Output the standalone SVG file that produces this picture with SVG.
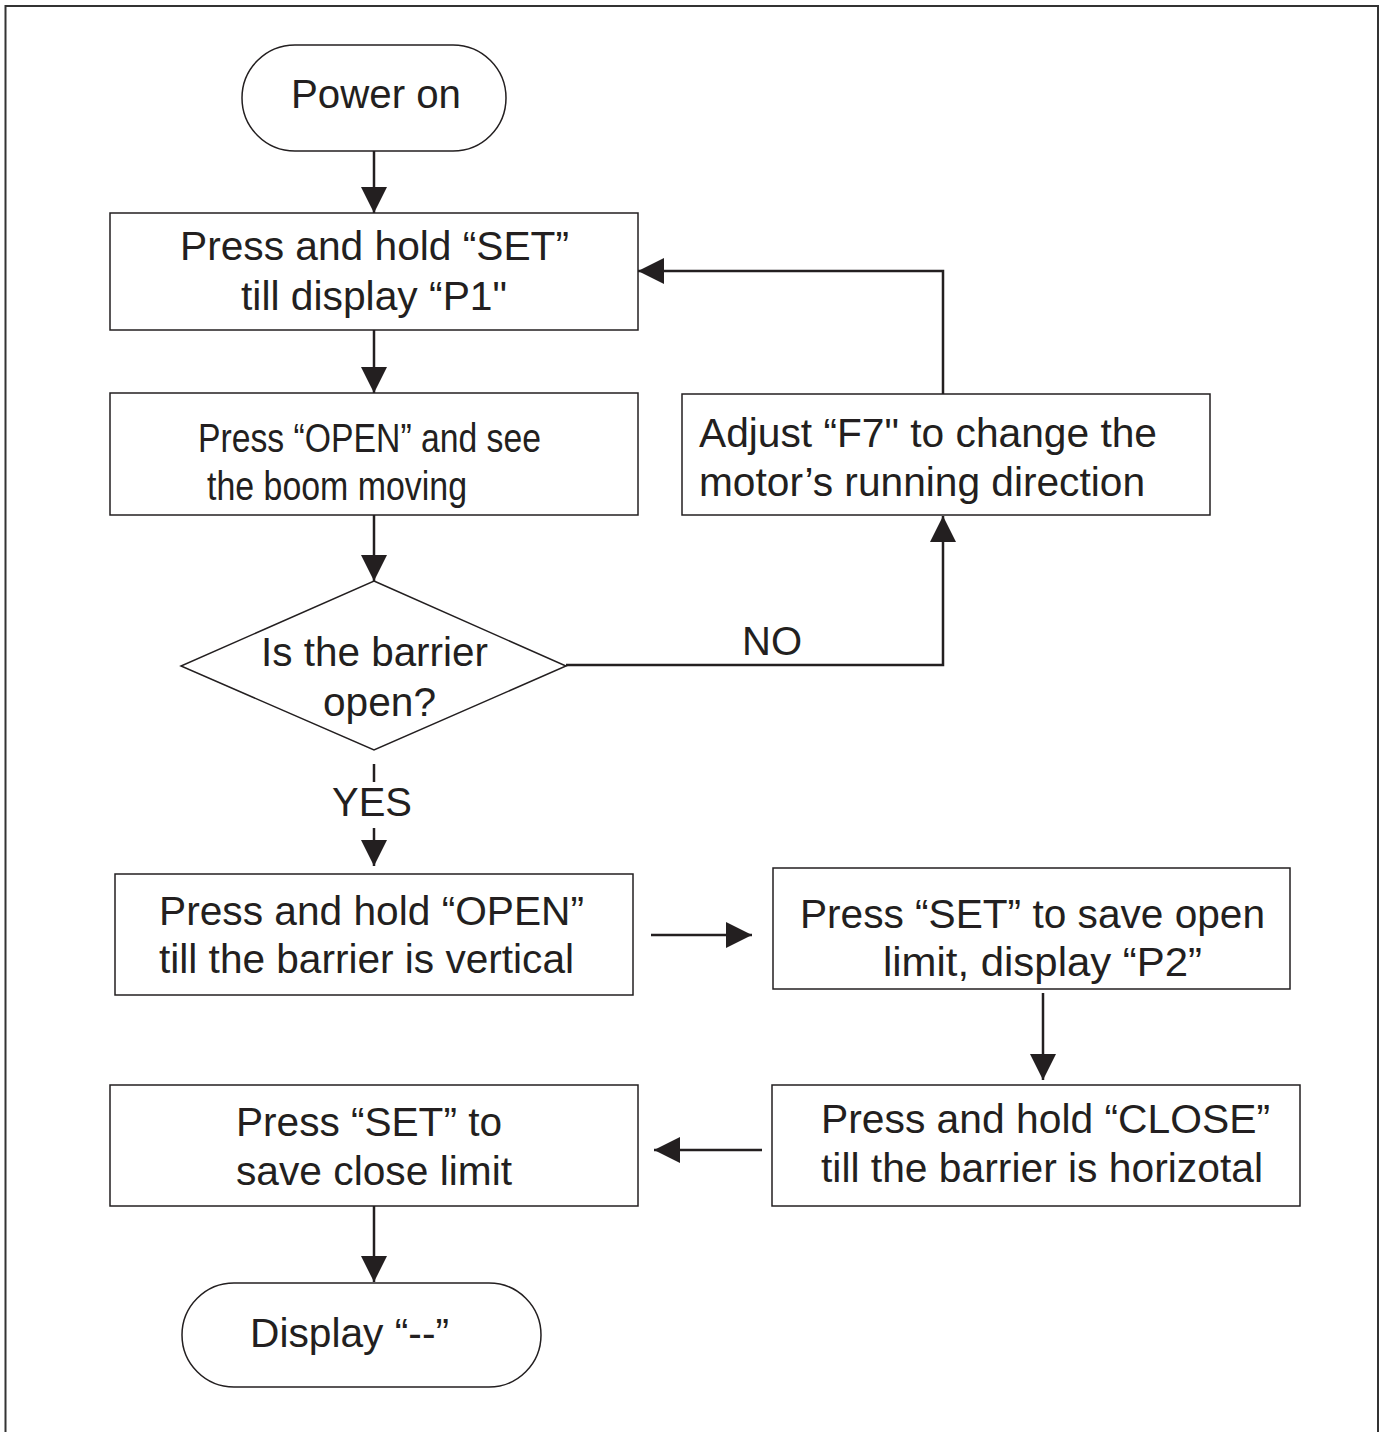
<svg xmlns="http://www.w3.org/2000/svg" width="1382" height="1432" viewBox="0 0 1382 1432">
<style>
.shape{fill:#fff;stroke:#231f20;stroke-width:1.5}
.t{font-family:"Liberation Sans",Arial,sans-serif;font-size:40px;fill:#231f20}
.c{fill:none;stroke:#231f20;stroke-width:2.5}
</style>
<defs>
<marker id="ah" markerUnits="userSpaceOnUse" markerWidth="26" markerHeight="26" refX="26" refY="13" orient="auto">
<path d="M0,0 L26,13 L0,26 Z" fill="#231f20"/>
</marker>
</defs>
<rect x="0" y="0" width="1382" height="1432" fill="#fff"/>
<rect x="5.5" y="6" width="1372.5" height="1440" fill="none" stroke="#333" stroke-width="2"/>
<g id="connectors">
<path class="c" d="M374,151 V213" marker-end="url(#ah)"/>
<path class="c" d="M374,330 V393" marker-end="url(#ah)"/>
<path class="c" d="M374,515 V581" marker-end="url(#ah)"/>
<path class="c" d="M566,665 H943 V516" marker-end="url(#ah)"/>
<path class="c" d="M943,394 V271 H638" marker-end="url(#ah)"/>
<path class="c" d="M374,764 V782"/>
<path class="c" d="M374,828 V866" marker-end="url(#ah)"/>
<path class="c" d="M651,935 H752" marker-end="url(#ah)"/>
<path class="c" d="M1043,993 V1080" marker-end="url(#ah)"/>
<path class="c" d="M762,1150 H654" marker-end="url(#ah)"/>
<path class="c" d="M374,1206 V1282" marker-end="url(#ah)"/>
<text class="t" x="742" y="655" textLength="60" lengthAdjust="spacingAndGlyphs">NO</text>
<text class="t" x="332" y="816" textLength="80" lengthAdjust="spacingAndGlyphs">YES</text>
</g>
<g id="power-on">
<rect class="shape" x="242" y="45" width="264" height="106" rx="53" ry="53"/>
<text class="t" x="291" y="108" textLength="170" lengthAdjust="spacingAndGlyphs">Power on</text>
</g>
<g id="hold-set">
<rect class="shape" x="110" y="213" width="528" height="117"/>
<text class="t" x="180" y="260" textLength="389" lengthAdjust="spacingAndGlyphs">Press and hold “SET”</text>
<text class="t" x="241" y="310" textLength="266" lengthAdjust="spacingAndGlyphs">till display “P1"</text>
</g>
<g id="press-open">
<rect class="shape" x="110" y="393" width="528" height="122"/>
<text class="t" x="198" y="452" textLength="343" lengthAdjust="spacingAndGlyphs">Press “OPEN” and see</text>
<text class="t" x="207" y="500" textLength="260" lengthAdjust="spacingAndGlyphs">the boom moving</text>
</g>
<g id="decision">
<polygon class="shape" points="374,581 566,666 374,750 181,666"/>
<text class="t" x="261" y="666" textLength="227" lengthAdjust="spacingAndGlyphs">Is the barrier</text>
<text class="t" x="323" y="716" textLength="113" lengthAdjust="spacingAndGlyphs">open?</text>
</g>
<g id="adjust-f7">
<rect class="shape" x="682" y="394" width="528" height="121"/>
<text class="t" x="699" y="447" textLength="458" lengthAdjust="spacingAndGlyphs">Adjust “F7" to change the</text>
<text class="t" x="699" y="496" textLength="446" lengthAdjust="spacingAndGlyphs">motor’s running direction</text>
</g>
<g id="hold-open">
<rect class="shape" x="115" y="874" width="518" height="121"/>
<text class="t" x="159" y="925" textLength="425" lengthAdjust="spacingAndGlyphs">Press and hold “OPEN”</text>
<text class="t" x="159" y="973" textLength="415" lengthAdjust="spacingAndGlyphs">till the barrier is vertical</text>
</g>
<g id="save-open">
<rect class="shape" x="773" y="868" width="517" height="121"/>
<text class="t" x="800" y="928" textLength="465" lengthAdjust="spacingAndGlyphs">Press “SET” to save open</text>
<text class="t" x="883" y="976" textLength="319" lengthAdjust="spacingAndGlyphs">limit, display “P2”</text>
</g>
<g id="hold-close">
<rect class="shape" x="772" y="1085" width="528" height="121"/>
<text class="t" x="821" y="1133" textLength="449" lengthAdjust="spacingAndGlyphs">Press and hold “CLOSE”</text>
<text class="t" x="821" y="1182" textLength="442" lengthAdjust="spacingAndGlyphs">till the barrier is horizotal</text>
</g>
<g id="save-close">
<rect class="shape" x="110" y="1085" width="528" height="121"/>
<text class="t" x="236" y="1136" textLength="266" lengthAdjust="spacingAndGlyphs">Press “SET” to</text>
<text class="t" x="236" y="1185" textLength="276" lengthAdjust="spacingAndGlyphs">save close limit</text>
</g>
<g id="display-end">
<rect class="shape" x="182" y="1283" width="359" height="104" rx="52" ry="52"/>
<text class="t" x="250" y="1347" textLength="199" lengthAdjust="spacingAndGlyphs">Display “--”</text>
</g>
</svg>
